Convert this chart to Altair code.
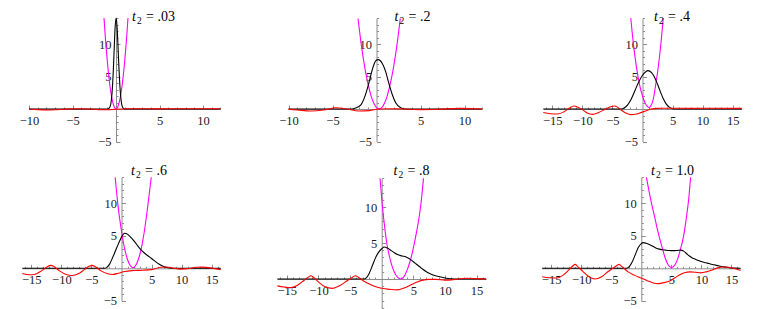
import altair as alt
import pandas as pd

# ---------------- values ----------------
TITLES = [("t", "2", "= .03"), ("t", "2", "= .2"), ("t", "2", "= .4"),
          ("t", "2", "= .6"), ("t", "2", "= .8"), ("t", "2", "= 1.0")]

XLAB_A = [-10, -5, 5, 10]
XLAB_B = [-15, -10, -5, 5, 10, 15]
XMIN_A = [-10, -9, -8, -7, -6, -5, -4, -3, -2, -1, 1, 2, 3, 4, 5, 6, 7, 8, 9, 10, 11, 12]
XMIN_B = [-16, -15, -14, -13, -12, -11, -10, -9, -8, -7, -6, -5, -4, -3, -2, -1,
          1, 2, 3, 4, 5, 6, 7, 8, 9, 10, 11, 12, 13, 14, 15, 16]
YLAB = [-5, 5, 10]
YLAB_5 = [5, 10]
YMIN = [-5, -4, -3, -2, -1, 1, 2, 3, 4, 5, 6, 7, 8, 9, 10, 11, 12, 13, 14]
YMIN_5 = [-4, -3, -2, -1, 1, 2, 3, 4, 5, 6, 7, 8, 9, 10, 11, 12, 13, 14]

# panel 1 (t2 = .03)
MAG1_X = [-1.38, -1.2, -1.0, -0.8, -0.6, -0.4, -0.2, 0.0, 0.2, 0.4, 0.6, 0.8, 1.0, 1.2, 1.38]
MAG1_Y = [14.0, 10.6, 7.35, 4.7, 2.65, 1.2, 0.3, 0.0, 0.3, 1.2, 2.65, 4.7, 7.35, 10.6, 14.0]
BLK1_X = [-10, -0.95, -0.7, -0.55, -0.4, -0.3, -0.2, -0.1, 0.03, 0.15, 0.25, 0.35, 0.45, 0.6, 0.75, 0.95, 12]
BLK1_Y = [0, 0, 0.3, 1.2, 3.5, 6.2, 9.5, 12.6, 14.0, 12.0, 9.0, 6.0, 3.5, 1.2, 0.3, 0, 0]
RED1_X = [-10, -9, -8, -7, -6, -4.5, -3, -2, -1, 0, 1.5, 3, 5, 7, 9, 11, 12]
RED1_Y = [0, -0.1, -0.15, -0.12, -0.03, 0.05, 0, -0.1, -0.12, -0.03, 0.03, 0.05, 0.02, 0.05, 0.05, 0.05, 0.03]

# panel 2 (t2 = .2)
MAG2_X = [-2.1, -1.8, -1.5, -1.2, -0.9, -0.6, -0.3, 0.0, 0.3, 0.6, 0.9, 1.2, 1.5, 1.8, 2.1, 2.4, 2.7]
MAG2_Y = [13.9, 10.6, 7.8, 5.4, 3.5, 1.95, 0.87, 0.22, 0.05, 0.22, 0.87, 1.95, 3.5, 5.4, 7.8, 10.6, 13.9]
BLK2_X = [-10, -2.8, -2.4, -1.8, -1.23, -0.85, -0.47, -0.09, 0.2, 0.66, 1.04, 1.4, 1.8, 2.18, 2.75, 3.3, 12]
BLK2_Y = [0, 0, 0.15, 0.6, 2.3, 4.1, 6.1, 7.4, 7.6, 7.0, 5.75, 3.97, 2.2, 0.95, 0.2, 0, 0]
RED2_X = [-10, -9, -7.5, -6, -4.6, -3.5, -2, -0.8, 0.2, 1.5, 3, 5, 7, 9.5, 11, 12]
RED2_Y = [-0.05, -0.15, -0.3, -0.15, 0.2, 0.05, -0.3, -0.25, 0, 0.05, 0, -0.1, -0.05, 0.1, 0.05, 0]

# panel 3 (t2 = .4)
MAG3_X = [-1.95, -1.5, -1.0, -0.5, 0.0, 0.5, 0.8, 1.1, 1.35, 1.6, 1.9, 2.2, 2.5, 2.8, 3.1, 3.45]
MAG3_Y = [14.0, 9.9, 6.4, 3.8, 2.0, 0.8, 0.4, 0.22, 0.45, 0.9, 2.0, 3.8, 5.6, 7.8, 10.4, 14.0]
BLK3_X = [-16.5, -3.5, -3.0, -2.5, -2.0, -1.5, -1.0, -0.5, 0.0, 0.5, 0.9, 1.5, 2.0, 2.5, 3.0, 3.5, 4.0, 4.5, 5.0, 5.5, 16.5]
BLK3_Y = [0, 0, 0.2, 0.6, 1.3, 2.3, 3.4, 4.4, 5.2, 5.7, 5.9, 5.6, 4.9, 3.8, 2.6, 1.5, 0.7, 0.25, 0.05, 0, 0]
RED3_X = [-16.5, -15.3, -14.1, -13.0, -12.2, -11.4, -10.6, -10.0, -9.2, -8.3, -7.3, -6.1, -5.3, -4.7,
          -4.1, -3.5, -2.8, -1.95, -1.0, -0.3, 0.5, 1.4, 2.5, 5, 8, 12, 16.5]
RED3_Y = [-0.55, -0.72, -0.77, -0.4, 0.1, 0.46, 0.2, -0.1, -0.6, -0.82, -0.55, 0, 0.35, 0.46,
          0.25, -0.2, -0.6, -0.87, -0.78, -0.56, -0.3, 0, 0.1, 0.12, 0.1, 0.12, 0.1]

# panel 4 (t2 = .6)
MAG4_X = [-1.05, -0.6, 0.0, 0.5, 1.0, 1.5, 1.9, 2.3, 2.8, 3.3, 3.8, 4.4, 4.95]
MAG4_Y = [14.0, 9.8, 5.7, 3.1, 1.35, 0.35, 0.1, 0.35, 1.35, 3.1, 5.7, 9.8, 14.0]
BLK4_X = [-16.5, -2.8, -2.5, -2.0, -1.5, -1.0, -0.5, 0.0, 0.5, 0.8, 1.5, 2.0, 2.5, 3.0, 3.5, 4.0,
          4.5, 5.0, 5.5, 6.0, 6.5, 7.0, 7.5, 8.0, 9.0, 16.5]
BLK4_Y = [0, 0, 0.1, 0.6, 1.6, 2.7, 3.8, 4.8, 5.4, 5.35, 4.8, 4.3, 3.7, 3.1, 2.6, 2.2,
          1.85, 1.5, 1.15, 0.8, 0.5, 0.28, 0.12, 0.04, 0, 0]
RED4_X = [-16.5, -15.3, -14.5, -13.3, -12.4, -11.8, -11.2, -10.3, -9.2, -8.2, -7.2, -6.2, -5.4, -4.9,
          -4.3, -3.4, -2.3, -1.5, -0.5, 0.5, 2, 3.5, 5, 6.5, 7.5, 8.5, 9.8, 11, 12.5, 13.5, 14.5, 15.5, 16.5]
RED4_Y = [-0.8, -1.0, -0.95, -0.4, 0.2, 0.45, 0.25, -0.4, -0.95, -1.1, -0.85, -0.2, 0.3, 0.45,
          0.2, -0.4, -0.85, -0.95, -0.75, -0.5, -0.35, -0.3, -0.2, 0.15, 0.2, 0.05, -0.12, -0.05, 0.15, 0.18, 0.1, -0.05, -0.2]

# panel 5 (t2 = .8)
MAG5_X = [-0.27, 0.1, 0.5, 0.8, 1.2, 1.6, 2.0, 2.5, 3.0, 3.5, 4.0, 4.5, 5.0, 5.5, 6.0, 6.3, 6.6]
MAG5_Y = [14.0, 10.2, 7.0, 5.0, 3.2, 1.9, 0.95, 0.25, 0.0, 0.3, 1.2, 2.5, 4.3, 6.5, 9.1, 11.2, 14.0]
BLK5_X = [-16.5, -2.8, -2.4, -2.0, -1.5, -1.0, -0.5, 0.0, 0.4, 0.9, 1.5, 2.0, 2.5, 3.0, 3.5, 4.0, 4.5,
          5.0, 5.5, 6.0, 6.5, 7.0, 7.5, 8.0, 8.5, 9.0, 9.5, 10.0, 10.5, 11.0, 11.5, 16.5]
BLK5_Y = [0, 0, 0.2, 0.75, 1.8, 2.9, 3.7, 4.2, 4.45, 4.3, 3.95, 3.65, 3.4, 3.25, 3.15, 3.0, 2.75,
          2.4, 2.05, 1.7, 1.35, 1.05, 0.8, 0.6, 0.45, 0.35, 0.25, 0.15, 0.08, 0.03, 0, 0]
RED5_X = [-16.5, -15.5, -14.4, -13.3, -12.3, -11.6, -11.2, -10.8, -10.0, -9.0, -7.8, -6.6, -5.4, -4.6,
          -4.15, -3.7, -2.8, -1.8, -0.8, 0.5, 1.5, 2.5, 3.5, 4.5, 5.5, 6.5, 7.5, 8.6, 10, 11, 12, 13.5, 15, 16.5]
RED5_Y = [-0.95, -1.1, -1.2, -0.85, -0.2, 0.25, 0.46, 0.25, -0.4, -1.05, -1.3, -0.9, -0.2, 0.25,
          0.46, 0.25, -0.3, -0.75, -1.1, -1.35, -1.45, -1.5, -1.25, -0.85, -0.45, -0.15, -0.05, -0.05, -0.15, -0.12, 0, 0.1, 0.05, 0]

# panel 6 (t2 = 1.0)
MAG6_X = [0.85, 1.3, 1.7, 2.2, 2.6, 3.0, 3.5, 4.0, 4.5, 5.0, 5.5, 6.0, 6.5, 7.0, 7.5, 7.9, 8.2]
MAG6_Y = [14.0, 11.8, 10.0, 8.0, 6.3, 4.8, 3.1, 1.5, 0.5, 0.1, 0.4, 1.3, 2.9, 4.8, 7.8, 10.8, 14.0]
BLK6_X = [-16.5, -2.4, -2.0, -1.5, -1.0, -0.5, 0.0, 0.3, 0.8, 1.5, 2.0, 2.5, 3.0, 3.5, 4.0, 4.5, 5.0,
          5.5, 6.0, 6.6, 7.1, 7.6, 8.0, 8.5, 9.0, 9.5, 10.0, 10.5, 11.0, 11.5, 12.0, 12.5, 13.0, 13.5,
          14.0, 14.5, 15.0, 15.5, 16.5]
BLK6_Y = [0, 0, 0.25, 1.0, 2.1, 3.2, 3.8, 3.95, 3.85, 3.6, 3.35, 3.1, 2.95, 2.85, 2.8, 2.75, 2.72,
          2.72, 2.75, 2.8, 2.6, 2.2, 1.9, 1.6, 1.4, 1.2, 1.05, 0.9, 0.8, 0.65, 0.55, 0.45, 0.35, 0.25,
          0.2, 0.12, 0.05, 0.02, 0]
RED6_X = [-16.5, -15.3, -14.0, -13.0, -12.0, -11.4, -11.0, -10.6, -9.7, -8.7, -7.7, -6.6, -5.5, -4.4,
          -3.7, -3.2, -2.2, -1.2, 0, 1, 2, 2.8, 3.8, 4.8, 5.6, 6.5, 7.3, 8.1, 9, 9.9, 10.8, 11.8, 12.8,
          13.6, 14.5, 15.3, 16.5]
RED6_Y = [-1.3, -1.45, -1.5, -1.05, -0.2, 0.35, 0.6, 0.3, -0.5, -1.3, -1.65, -1.3, -0.5, 0.2,
          0.6, 0.25, -0.55, -1.05, -1.5, -1.9, -2.25, -2.35, -2.2, -1.9, -1.45, -0.95, -0.65, -0.55, -0.6,
          -0.7, -0.55, -0.25, 0.1, 0.2, 0.15, 0, -0.35]

# ---------------- layout / style ----------------
W, H = 747, 301
GRAY = "#8c8c8c"
FONT = "Liberation Serif, Times New Roman, Times, serif"
MAGENTA, BLACK, RED = "#ff00ff", "#000000", "#ff0000"

PANELS = [
    dict(xd=[-10, 12], xr=[21.0, 212.4], yd=[-5, 14], yr=[133.5, 10.0], xlab=XLAB_A, xmin=XMIN_A,
         ylab=YLAB, ymin=YMIN, mag=(MAG1_X, MAG1_Y), blk=(BLK1_X, BLK1_Y), red=(RED1_X, RED1_Y),
         title=TITLES[0], tx=124.0, ty=13.0),
    dict(xd=[-10, 12], xr=[280.5, 474.1], yd=[-5, 14], yr=[133.5, 10.0], xlab=XLAB_A, xmin=XMIN_A,
         ylab=YLAB, ymin=YMIN, mag=(MAG2_X, MAG2_Y), blk=(BLK2_X, BLK2_Y), red=(RED2_X, RED2_Y),
         title=TITLES[1], tx=386.5, ty=13.0),
    dict(xd=[-16.5, 16.5], xr=[535.3, 733.7], yd=[-5, 14], yr=[133.5, 10.0], xlab=XLAB_B, xmin=XMIN_B,
         ylab=YLAB, ymin=YMIN, mag=(MAG3_X, MAG3_Y), blk=(BLK3_X, BLK3_Y), red=(RED3_X, RED3_Y),
         title=TITLES[2], tx=646.0, ty=13.0),
    dict(xd=[-16.5, 16.5], xr=[14.3, 212.7], yd=[-5, 14], yr=[292.8, 169.3], xlab=XLAB_B, xmin=XMIN_B,
         ylab=YLAB, ymin=YMIN, mag=(MAG4_X, MAG4_Y), blk=(BLK4_X, BLK4_Y), red=(RED4_X, RED4_Y),
         title=TITLES[3], tx=123.0, ty=166.5),
    dict(xd=[-16.5, 16.5], xr=[269.3, 478.1], yd=[-4.3, 14], yr=[302.0, 170.2], xlab=XLAB_B, xmin=XMIN_B,
         ylab=YLAB_5, ymin=YMIN_5, mag=(MAG5_X, MAG5_Y), blk=(BLK5_X, BLK5_Y), red=(RED5_X, RED5_Y),
         title=TITLES[4], tx=385.5, ty=166.5),
    dict(xd=[-16.5, 16.5], xr=[534.1, 732.5], yd=[-5, 14], yr=[292.8, 169.3], xlab=XLAB_B, xmin=XMIN_B,
         ylab=YLAB, ymin=YMIN, mag=(MAG6_X, MAG6_Y), blk=(BLK6_X, BLK6_Y), red=(RED6_X, RED6_Y),
         title=TITLES[5], tx=643.0, ty=166.5),
]


def lin(d, r, v):
    return r[0] + (v - d[0]) * (r[1] - r[0]) / (d[1] - d[0])


def label_axis(orient, offset, values):
    return alt.Axis(orient=orient, offset=offset, values=values, ticks=False, domain=True,
                    domainColor=GRAY, domainWidth=1, labelFont=FONT, labelFontSize=12.5,
                    labelColor="#1a1a1a", labelPadding=5, labelFlush=False, labelOverlap=False,
                    grid=False, title=None)


def tick_axis(orient, offset, values, size):
    return alt.Axis(orient=orient, offset=offset, values=values, ticks=True, tickSize=size,
                    tickColor=GRAY, tickWidth=1, labels=False, domain=False, grid=False, title=None)


def text(s, x, y, size, style):
    return alt.Chart(pd.DataFrame({"s": [s]})).mark_text(
        font=FONT, fontSize=size, fontStyle=style, align="left", baseline="alphabetic", color="black"
    ).encode(x=alt.value(x), y=alt.value(y), text="s:N")


def panel(p):
    xs = alt.Scale(domain=p["xd"], range=p["xr"], nice=False, zero=False)
    ys = alt.Scale(domain=p["yd"], range=p["yr"], nice=False, zero=False)
    x0 = lin(p["xd"], p["xr"], 0)
    y0 = lin(p["yd"], p["yr"], 0)

    def line(xy, color, ax, ay):
        df = pd.DataFrame({"x": xy[0], "y": xy[1]})
        return alt.Chart(df).mark_line(color=color, strokeWidth=1.1, interpolate="monotone").encode(
            x=alt.X("x:Q", scale=xs, axis=ax), y=alt.Y("y:Q", scale=ys, axis=ay))

    lines = [
        line(p["mag"], MAGENTA, label_axis("bottom", y0 - H, p["xlab"]), label_axis("left", -x0, p["ylab"])),
        line(p["blk"], BLACK, tick_axis("top", -y0, p["xlab"], 4), tick_axis("right", x0 - W, p["ylab"], 4)),
        line(p["red"], RED, tick_axis("top", -y0, p["xmin"], 2), tick_axis("right", x0 - W, p["ymin"], 2)),
    ]
    t, sub, rest = p["title"]
    titles = [
        text(t, p["tx"], p["ty"], 14, "italic"),
        text(sub, p["tx"] + 5.0, p["ty"] + 3, 9.5, "normal"),
        text(rest, p["tx"] + 14, p["ty"], 14, "normal"),
    ]
    return alt.layer(*lines, *titles).resolve_axis(x="independent", y="independent")


chart = alt.layer(*[panel(p) for p in PANELS]).resolve_scale(
    x="independent", y="independent"
).properties(
    width=W, height=H, autosize=alt.AutoSizeParams(type="none"), padding=0, background="white"
).configure_view(strokeWidth=0)

chart.save("out.html", embed_options={"renderer": "svg", "actions": False})
